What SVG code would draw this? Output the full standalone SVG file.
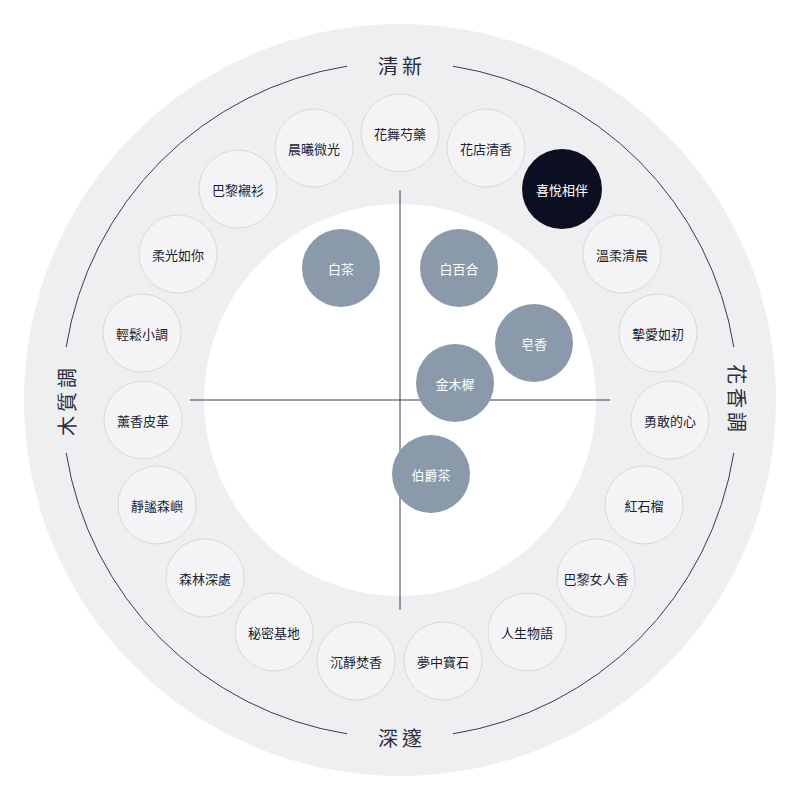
<svg xmlns="http://www.w3.org/2000/svg" width="800" height="800" viewBox="0 0 800 800">
<style>
text{font-family:"Noto Sans CJK TC","Noto Sans CJK SC",sans-serif;text-anchor:middle;dominant-baseline:central}
.r circle{fill:#f4f4f6;stroke:#d8d9dd;stroke-width:1}
.r text{font-size:13px;fill:#1a1d33}
.i circle{fill:#8a9aab}
.i text{font-size:13px;fill:#fff}
.lab{font-size:20px;fill:#2a2d40;letter-spacing:4px}
.ax{stroke:#3a3d52;stroke-width:1;fill:none}
</style>
<rect width="800" height="800" fill="#fff"/>
<circle cx="400" cy="400" r="376" fill="#efeff1"/>
<circle cx="400" cy="400" r="196" fill="#fff"/>
<g id="connectors" class="ax">
<path d="M452.9,66.2 A338,338 0 0 1 733.8,347.1"/>
<path d="M733.8,452.9 A338,338 0 0 1 452.9,733.8"/>
<path d="M347.1,733.8 A338,338 0 0 1 66.2,452.9"/>
<path d="M66.2,347.1 A338,338 0 0 1 347.1,66.2"/>
<line x1="400" y1="190" x2="400" y2="610"/>
<line x1="190" y1="400" x2="610" y2="400"/>
</g>
<g id="labels">
<text class="lab" x="402" y="65">清新</text>
<text class="lab" x="402" y="737">深邃</text>
<text class="lab" transform="translate(737,400) rotate(90)">花香調</text>
<text class="lab" transform="translate(66,400) rotate(-90)">木質調</text>
</g>
<g class="r">
<g id="n1"><circle cx="400" cy="133" r="39"/><text x="400" y="133">花舞芍藥</text></g>
<g id="n2"><circle cx="486" cy="148" r="39"/><text x="486" y="148">花店清香</text></g>
<g id="n3"><circle cx="562" cy="189" r="40" style="fill:#0c0e22;stroke:none"/><text x="562" y="189" style="fill:#fff">喜悅相伴</text></g>
<g id="n4"><circle cx="622" cy="254" r="39"/><text x="622" y="254">溫柔清晨</text></g>
<g id="n5"><circle cx="658" cy="333" r="39"/><text x="658" y="333">摯愛如初</text></g>
<g id="n6"><circle cx="670" cy="420" r="39"/><text x="670" y="420">勇敢的心</text></g>
<g id="n7"><circle cx="644" cy="505" r="39"/><text x="644" y="505">紅石榴</text></g>
<g id="n8"><circle cx="596" cy="578" r="39"/><text x="596" y="578">巴黎女人香</text></g>
<g id="n9"><circle cx="527" cy="632" r="39"/><text x="527" y="632">人生物語</text></g>
<g id="n10"><circle cx="443" cy="661" r="39"/><text x="443" y="661">夢中寶石</text></g>
<g id="n11"><circle cx="356" cy="661" r="39"/><text x="356" y="661">沉靜焚香</text></g>
<g id="n12"><circle cx="274" cy="632" r="39"/><text x="274" y="632">秘密基地</text></g>
<g id="n13"><circle cx="205" cy="578" r="39"/><text x="205" y="578">森林深處</text></g>
<g id="n14"><circle cx="157" cy="505" r="39"/><text x="157" y="505">靜謐森嶼</text></g>
<g id="n15"><circle cx="143" cy="420" r="39"/><text x="143" y="420">薰香皮革</text></g>
<g id="n16"><circle cx="142" cy="333" r="39"/><text x="142" y="333">輕鬆小調</text></g>
<g id="n17"><circle cx="178" cy="254" r="39"/><text x="178" y="254">柔光如你</text></g>
<g id="n18"><circle cx="238" cy="189" r="39"/><text x="238" y="189">巴黎襯衫</text></g>
<g id="n19"><circle cx="314" cy="148" r="39"/><text x="314" y="148">晨曦微光</text></g>
</g>
<g class="i">
<g id="c1"><circle cx="341" cy="268" r="39"/><text x="341" y="268">白茶</text></g>
<g id="c2"><circle cx="459" cy="268" r="39"/><text x="459" y="268">白百合</text></g>
<g id="c3"><circle cx="534" cy="343" r="39"/><text x="534" y="343">皂香</text></g>
<g id="c4"><circle cx="455" cy="383" r="39"/><text x="455" y="383">金木樨</text></g>
<g id="c5"><circle cx="431" cy="474" r="39"/><text x="431" y="474">伯爵茶</text></g>
</g>
</svg>
